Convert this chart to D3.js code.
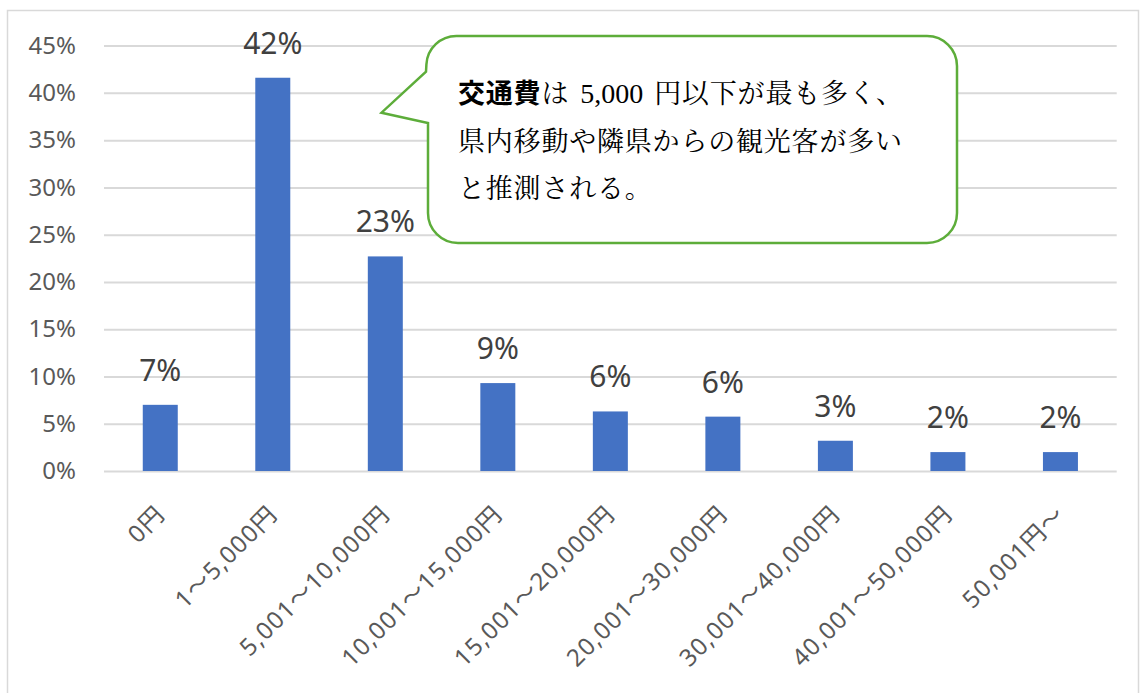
<!DOCTYPE html>
<html>
<head>
<meta charset="utf-8">
<script src="https://cdn.jsdelivr.net/npm/d3@7"></script>
<style>
  html, body { margin: 0; padding: 0; background: #fff; }
  svg { display: block; }
</style>
</head>
<body>
<svg id="chart" width="1143" height="693"></svg>
<script>
const categories = [
  '0円', '1～5,000円', '5,001～10,000円', '10,001～15,000円', '15,001～20,000円',
  '20,001～30,000円', '30,001～40,000円', '40,001～50,000円', '50,001円～',
];
const shares = [0.070, 0.416, 0.227, 0.093, 0.063, 0.0575, 0.032, 0.020, 0.020];
const yTicks = [0, 0.05, 0.1, 0.15, 0.2, 0.25, 0.3, 0.35, 0.4, 0.45];
const calloutBold = '交通費';
const calloutLines = [
  'は 5,000 円以下が最も多く、',
  '県内移動や隣県からの観光客が多い',
  'と推測される。',
];

const CONFIG = {
  plot: { left: 104, right: 1116.7, top: 45.6, bottom: 471 },
  barColor: '#4472C4',
  gridColor: '#D9D9D9',
  latin: '"Noto Sans", sans-serif',
  cjk: '"Noto Sans CJK JP", sans-serif',
  serif: '"Liberation Serif", "Noto Serif CJK JP", "Noto Sans CJK JP", serif',
};

// split a string into ascii / non-ascii runs so each gets its own font
const runs = str => str.match(/[\x00-\x7F]+|[^\x00-\x7F]+/g) || [];
const isAscii = s => /^[\x00-\x7F]+$/.test(s);

const svg = d3.select('#chart');
const { plot } = CONFIG;

// outer chart frame
svg.append('rect')
  .attr('x', 7.5).attr('y', 10.5)
  .attr('width', 1131).attr('height', 700)
  .attr('fill', '#fff')
  .attr('stroke', '#D9D9D9')
  .attr('stroke-width', 1.5);

const x = d3.scaleBand()
  .domain(categories)
  .range([plot.left, plot.right])
  .paddingInner(0.689)
  .paddingOuter(0.3445);

const y = d3.scaleLinear()
  .domain([0, 0.45])
  .range([plot.bottom, plot.top]);

// gridlines + y tick labels
const yAxis = svg.append('g')
  .attr('transform', `translate(${plot.left},0)`)
  .call(d3.axisLeft(y)
    .tickValues(yTicks)
    .tickFormat(d3.format('.0%'))
    .tickSize(-(plot.right - plot.left))
    .tickPadding(28));
yAxis.select('.domain').remove();
yAxis.selectAll('.tick line')
  .attr('stroke', CONFIG.gridColor)
  .attr('stroke-width', 2);
yAxis.selectAll('.tick text')
  .attr('fill', '#595959')
  .style('font-family', CONFIG.latin)
  .style('font-size', '24px');

// bars
svg.append('g')
  .selectAll('rect')
  .data(categories)
  .join('rect')
    .attr('x', d => x(d))
    .attr('y', (d, i) => y(shares[i]))
    .attr('width', x.bandwidth())
    .attr('height', (d, i) => y(0) - y(shares[i]))
    .attr('fill', CONFIG.barColor);

// data labels
svg.append('g')
  .selectAll('text')
  .data(categories)
  .join('text')
    .attr('x', d => x(d) + x.bandwidth() / 2)
    .attr('y', (d, i) => y(shares[i]) - 24)
    .attr('text-anchor', 'middle')
    .attr('fill', '#404040')
    .style('font-family', CONFIG.latin)
    .style('font-size', '30px')
    .text((d, i) => d3.format('.0%')(shares[i]));

// x category labels, rotated
const xAxis = svg.append('g')
  .attr('transform', `translate(0,${plot.bottom})`)
  .call(d3.axisBottom(x).tickSize(0).tickPadding(0));
xAxis.select('.domain').remove();
xAxis.selectAll('.tick text')
  .text(null)
  .attr('fill', '#595959')
  .attr('text-anchor', 'end')
  .attr('dy', null)
  .attr('y', 0)
  .attr('transform', 'translate(6,45) rotate(-45)')
  .style('font-size', '24px')
  .style('letter-spacing', '1.2px')
  .each(function (d) {
    const t = d3.select(this);
    runs(d).forEach(r => {
      t.append('tspan')
        .style('font-family', isAscii(r) ? CONFIG.latin : CONFIG.cjk)
        .text(r);
    });
  });

// callout bubble
const box = { x: 428, y: 36, w: 529, h: 207, r: 30 };
const tip = { x: 381.5, y: 112.7, top: 71.7, bottom: 123 };
const path = d3.path();
path.moveTo(box.x + box.r, box.y);
path.lineTo(box.x + box.w - box.r, box.y);
path.arcTo(box.x + box.w, box.y, box.x + box.w, box.y + box.r, box.r);
path.lineTo(box.x + box.w, box.y + box.h - box.r);
path.arcTo(box.x + box.w, box.y + box.h, box.x + box.w - box.r, box.y + box.h, box.r);
path.lineTo(box.x + box.r, box.y + box.h);
path.arcTo(box.x, box.y + box.h, box.x, box.y + box.h - box.r, box.r);
path.lineTo(box.x, tip.bottom);
path.lineTo(tip.x, tip.y);
path.lineTo(box.x - 2, tip.top);
path.arcTo(box.x, box.y, box.x + box.r, box.y, box.r);
path.closePath();

svg.append('path')
  .attr('d', path.toString())
  .attr('fill', '#fff')
  .attr('stroke', '#5DAD3A')
  .attr('stroke-width', 2.5);

const callout = svg.append('text')
  .attr('fill', '#000');

// Japanese runs in a wide cell, latin runs in a serif with extra gap around them
const cjkStyle = s => s
  .style('font-size', '27px')
  .style('letter-spacing', '0.8px');

calloutLines.forEach((line, i) => {
  const t = callout.append('tspan')
    .attr('x', 458)
    .attr('y', 103 + i * 47.5);
  if (i === 0) {
    t.append('tspan')
      .style('font-family', CONFIG.cjk)
      .style('font-weight', 'bold')
      .call(cjkStyle)
      .text(calloutBold);
  }
  let gapNext = 0;
  runs(line).forEach(r => {
    const span = t.append('tspan').style('font-family', CONFIG.serif);
    if (isAscii(r)) {
      span.attr('dx', /^\s/.test(r) ? 11 : 0)
        .style('font-size', '28px')
        .style('letter-spacing', '0px')
        .text(r.trim());
      gapNext = /\s$/.test(r) ? 11 : 0;
    } else {
      span.attr('dx', gapNext).call(cjkStyle).text(r);
      gapNext = 0;
    }
  });
});
</script>
</body>
</html>
